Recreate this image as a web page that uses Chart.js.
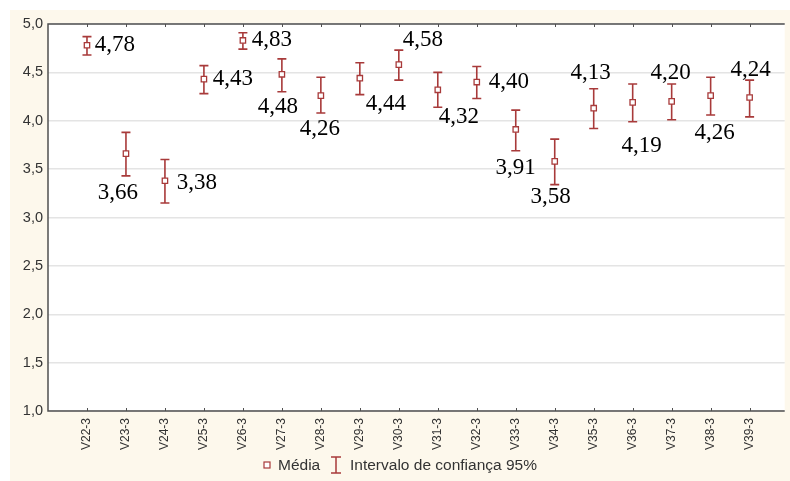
<!DOCTYPE html>
<html>
<head>
<meta charset="utf-8">
<script src="https://cdn.jsdelivr.net/npm/chart.js@4.4.1/dist/chart.umd.min.js"></script>
<style>
  html, body { margin: 0; padding: 0; background: #fff; }
  #wrap { width: 790px; height: 481px; }
</style>
</head>
<body>
<div id="wrap"><canvas id="chart" width="790" height="481"></canvas></div>
<script>
const categorias = ['V22-3', 'V23-3', 'V24-3', 'V25-3', 'V26-3', 'V27-3', 'V28-3', 'V29-3', 'V30-3',
    'V31-3', 'V32-3', 'V33-3', 'V34-3', 'V35-3', 'V36-3', 'V37-3', 'V38-3', 'V39-3'];
const medias = [4.78, 3.66, 3.38, 4.43, 4.83, 4.48, 4.26, 4.44, 4.58, 4.32, 4.40, 3.91, 3.58, 4.13, 4.19, 4.20, 4.26, 4.24];
const icInferior = [4.68, 3.43, 3.15, 4.28, 4.74, 4.30, 4.08, 4.27, 4.42, 4.14, 4.23, 3.69, 3.34, 3.92, 3.99, 4.01, 4.06, 4.04];
const icSuperior = [4.87, 3.88, 3.60, 4.57, 4.91, 4.64, 4.45, 4.60, 4.73, 4.50, 4.56, 4.11, 3.81, 4.33, 4.38, 4.38, 4.45, 4.42];
const rotulos = ['4,78', '3,66', '3,38', '4,43', '4,83', '4,48', '4,26', '4,44', '4,58', '4,32', '4,40', '3,91', '3,58', '4,13', '4,19', '4,20', '4,26', '4,24'];
const ticksY = [1.0, 1.5, 2.0, 2.5, 3.0, 3.5, 4.0, 4.5, 5.0];

// posição dos rótulos em relação ao marcador (px)
const offsetRotulos = [[28, 0], [-8, 39], [32, 2], [29, 0], [29, 0], [-4, 33], [-1, 33], [26, 26], [24, -25],
    [21, 27], [32, 0], [0, 38], [-4, 36], [-3, -35], [9, 44], [-1, -28], [4, 37], [1, -28]];

const COR = '#a83a3a';
const FONTE = '"Liberation Sans", Arial, sans-serif';

const fundoPlugin = {
    id: 'fundo',
    beforeDraw(chart) {
        const { ctx, chartArea: a } = chart;
        ctx.save();
        ctx.fillStyle = '#fff';
        ctx.fillRect(0, 0, chart.width, chart.height);
        ctx.fillStyle = '#fdf8ec';
        ctx.fillRect(10, 10, chart.width - 10, chart.height - 10);
        ctx.fillStyle = '#fff';
        ctx.fillRect(a.left, a.top, a.right - a.left, a.bottom - a.top);
        ctx.restore();
    },
    afterDatasetsDraw(chart) {
        const { ctx, chartArea: a, scales: { x, y } } = chart;
        ctx.save();
        // moldura e marcas
        ctx.strokeStyle = '#505050';
        ctx.lineWidth = 1.5;
        ctx.beginPath();
        ctx.moveTo(a.right, a.top);
        ctx.lineTo(a.left, a.top);
        ctx.lineTo(a.left, a.bottom);
        ctx.lineTo(a.right, a.bottom);
        ctx.stroke();
        ctx.lineWidth = 1;
        categorias.forEach((c, i) => {
            const px = Math.round(x.getPixelForValue(i)) + 0.5;
            ctx.beginPath();
            ctx.moveTo(px, a.top);
            ctx.lineTo(px, a.top + 3);
            ctx.moveTo(px, a.bottom);
            ctx.lineTo(px, a.bottom - 3);
            ctx.stroke();
        });

        // rótulos dos valores
        ctx.fillStyle = '#000';
        ctx.font = '23px "Liberation Serif", "Times New Roman", serif';
        ctx.textAlign = 'center';
        ctx.textBaseline = 'middle';
        medias.forEach((m, i) => {
            const px = x.getPixelForValue(i);
            const py = y.getPixelForValue(m);
            const [dx, dy] = offsetRotulos[i];
            ctx.fillText(rotulos[i], px + dx, py + dy);
        });

        // legenda
        const ly = 465;
        ctx.strokeStyle = COR;
        ctx.fillStyle = '#fff';
        ctx.lineWidth = 1.2;
        ctx.fillRect(264, ly - 3, 6, 6);
        ctx.strokeRect(264, ly - 3, 6, 6);
        ctx.fillStyle = '#333';
        ctx.font = '15.5px ' + FONTE;
        ctx.textAlign = 'left';
        ctx.fillText('Média', 278, ly + 1);
        ctx.strokeStyle = COR;
        ctx.lineWidth = 1.5;
        ctx.beginPath();
        ctx.moveTo(331, ly - 8); ctx.lineTo(341, ly - 8);
        ctx.moveTo(336, ly - 8); ctx.lineTo(336, ly + 8);
        ctx.moveTo(331, ly + 8); ctx.lineTo(341, ly + 8);
        ctx.stroke();
        ctx.fillText('Intervalo de confiança 95%', 350, ly + 1);
        ctx.restore();
    }
};

const barrasErroPlugin = {
    id: 'barrasErro',
    beforeDatasetsDraw(chart) {
        const { ctx, scales: { x, y } } = chart;
        ctx.save();
        ctx.strokeStyle = COR;
        ctx.lineWidth = 1.6;
        medias.forEach((m, i) => {
            const px = x.getPixelForValue(i);
            const yTop = y.getPixelForValue(icSuperior[i]);
            const yBot = y.getPixelForValue(icInferior[i]);
            ctx.beginPath();
            ctx.moveTo(px, yTop);
            ctx.lineTo(px, yBot);
            ctx.moveTo(px - 4.5, yTop);
            ctx.lineTo(px + 4.5, yTop);
            ctx.moveTo(px - 4.5, yBot);
            ctx.lineTo(px + 4.5, yBot);
            ctx.stroke();
        });
        ctx.restore();
    }
};

new Chart(document.getElementById('chart'), {
    type: 'scatter',
    data: {
        datasets: [{
            label: 'Média',
            data: medias.map((m, i) => ({ x: i, y: m })),
            pointStyle: 'rect',
            pointRadius: 3.8,
            borderColor: COR,
            backgroundColor: '#fff',
            borderWidth: 1.3
        }]
    },
    options: {
        responsive: false,
        animation: false,
        layout: { padding: { top: 24, right: 0, bottom: 0, left: 0 } },
        plugins: {
            legend: { display: false },
            tooltip: { enabled: false }
        },
        scales: {
            x: {
                type: 'linear',
                min: -1,
                max: 17.9,
                afterBuildTicks: (scale) => {
                    scale.ticks = categorias.map((c, i) => ({ value: i }));
                },
                afterFit: (scale) => { scale.height = 70; },
                grid: { display: false, drawTicks: false },
                border: { display: false },
                ticks: {
                    autoSkip: false,
                    minRotation: 90,
                    maxRotation: 90,
                    padding: 7,
                    color: '#333',
                    font: { family: FONTE, size: 12 },
                    callback: (v) => categorias[v] || ''
                }
            },
            y: {
                min: 1,
                max: 5,
                afterBuildTicks: (scale) => {
                    scale.ticks = ticksY.map(v => ({ value: v }));
                },
                afterFit: (scale) => { scale.width = 48; },
                grid: { color: '#e4e4e4', lineWidth: 1.5, drawTicks: false },
                border: { display: false },
                ticks: {
                    padding: 5,
                    color: '#333',
                    font: { family: FONTE, size: 14.5 },
                    callback: (v) => v.toFixed(1).replace('.', ',')
                }
            }
        }
    },
    plugins: [fundoPlugin, barrasErroPlugin]
});
</script>
</body>
</html>
